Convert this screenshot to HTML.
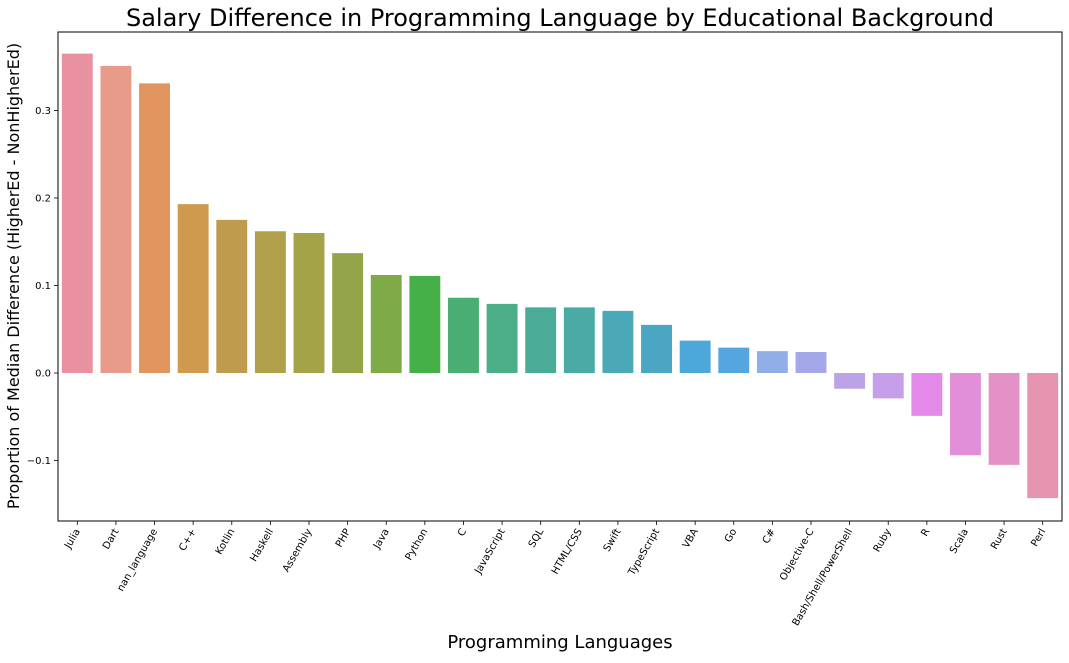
<!DOCTYPE html>
<html><head><meta charset="utf-8"><style>
body{margin:0;background:#fff;font-family:"Liberation Sans","DejaVu Sans",sans-serif}
</style></head><body>
<svg width="1069" height="658" id="c" xmlns="http://www.w3.org/2000/svg" font-family="DejaVu Sans, Liberation Sans, sans-serif">
<text x="560" y="26" text-anchor="middle" font-size="24" fill="#000">Salary Difference in Programming Language by Educational Background</text>
<text x="560" y="648" text-anchor="middle" font-size="18" fill="#000">Programming Languages</text>
<text transform="translate(19,276) rotate(-90)" text-anchor="middle" font-size="16" fill="#000">Proportion of Median Difference (HigherEd - NonHigherEd)</text>
<g id="bars"></g><g id="ax"></g>
</svg>
<script>
const categories=["Julia","Dart","nan_language","C++","Kotlin","Haskell","Assembly","PHP","Java","Python","C","JavaScript","SQL","HTML/CSS","Swift","TypeScript","VBA","Go","C#","Objective-C","Bash/Shell/PowerShell","Ruby","R","Scala","Rust","Perl"];
const values=[0.365,0.351,0.331,0.193,0.175,0.162,0.160,0.137,0.112,0.111,0.086,0.079,0.075,0.075,0.071,0.055,0.037,0.029,0.025,0.024,-0.018,-0.029,-0.049,-0.094,-0.105,-0.143];
const colors=["#e8929f","#e89b8a","#e0955f","#cf9a4e","#bf9c4d","#b09f4b","#a4a347","#94a549","#7eab48","#45b048","#4aae72","#4cae88","#4aab97","#4aaaa6","#4ba8b6","#4ba6c4","#4ca8d8","#55a6e0","#91aee8","#a5a8e8","#bba3e8","#c69ee9","#e38ae9","#e18fd8","#e492c5","#e693b0"];
const yTicks=[-0.1,0.0,0.1,0.2,0.3];
const L=58,R=1062,T=32,B=521;
const y=v=>373-v*875;
const slot=(R-L)/categories.length;
const x=i=>L+slot*(i+0.5);
const NS="http://www.w3.org/2000/svg";
const bars=document.getElementById('bars'),ax=document.getElementById('ax');
function mk(tag,at,p){const e=document.createElementNS(NS,tag);for(const k in at)e.setAttribute(k,at[k]);p.appendChild(e);return e;}
values.forEach((v,i)=>{
 const r=mk('rect',{x:x(i)-slot*0.4,y:Math.min(y(v),y(0)),width:slot*0.8,height:Math.abs(y(v)-y(0)),fill:colors[i]},bars);
 
 
 mk('line',{x1:x(i),x2:x(i),y1:B,y2:B+4,stroke:'#000','stroke-width':0.8},ax);
 const t=mk('text',{x:0,y:0,'font-size':10,'text-anchor':'end',transform:`translate(${x(i)+3},${B+10}) rotate(-60)`,fill:'#000'},ax);
 t.textContent=categories[i];
 
 
});
yTicks.forEach(v=>{
 mk('line',{x1:L-4,x2:L,y1:y(v),y2:y(v),stroke:'#000','stroke-width':0.8},ax);
 const t=mk('text',{x:L-7,y:y(v)+3.5,'font-size':10,'text-anchor':'end',fill:'#000'},ax);
 t.textContent=(v<0?'\u2212':'')+Math.abs(v).toFixed(1);
 
 
});
const f=mk('rect',{x:L,y:T,width:R-L,height:B-T,fill:'none',stroke:'#000','stroke-width':1},ax);


</script>
</body></html>
